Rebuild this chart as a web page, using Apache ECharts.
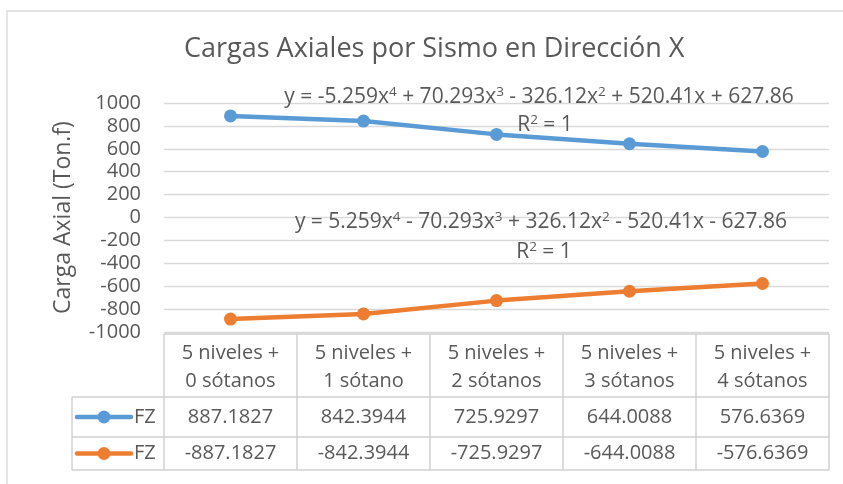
<!DOCTYPE html>
<html><head><meta charset="utf-8">
<script src="https://cdn.jsdelivr.net/npm/echarts@6/dist/echarts.min.js"></script>
<style>html,body{margin:0;padding:0;background:#fff}#c{width:843px;height:484px}</style>
</head><body><div id="c"></div>
<script>
var categories = ["5 niveles +\n0 sótanos","5 niveles +\n1 sótano","5 niveles +\n2 sótanos","5 niveles +\n3 sótanos","5 niveles +\n4 sótanos"];
var fzPos = [887.1827, 842.3944, 725.9297, 644.0088, 576.6369];
var fzNeg = [-887.1827, -842.3944, -725.9297, -644.0088, -576.6369];
var seriesNames = ["FZ","FZ"];
var yTicks = {min:-1000, max:1000, interval:200};
var FONT = "Open Sans";
var TXT = "#595959";
var GRIDC = "#d9d9d9";
var BLUE = "#5b9bd5", ORANGE = "#ed7d31";

var chart = echarts.init(document.getElementById('c'), null, {renderer:'canvas'});
var base = {
  animation:false,
  textStyle:{fontFamily:FONT},
  title:{text:"Cargas Axiales por Sismo en Dirección X", left:179, top:31,
    textStyle:{fontFamily:FONT, fontSize:27, fontWeight:'normal', color:TXT}},
  grid:{left:164, right:14, top:103, bottom:152, containLabel:false},
  xAxis:{type:'category', data:categories, boundaryGap:true,
    axisLine:{show:false}, axisTick:{show:false}, axisLabel:{show:false}, splitLine:{show:false}},
  yAxis:{type:'value', min:yTicks.min, max:yTicks.max, interval:yTicks.interval,
    name:"Carga Axial (Ton.f)", nameLocation:'middle', nameGap:89, nameRotate:90,
    nameTextStyle:{fontFamily:FONT, fontSize:23, color:TXT},
    axisLabel:{fontFamily:FONT, fontSize:20, color:TXT, margin:23, formatter:function(v){return String(v);}},
    axisLine:{show:false}, axisTick:{show:false},
    splitLine:{lineStyle:{color:GRIDC, width:1.3}}},
  series:[
    {name:seriesNames[0], type:'line', data:fzPos, symbol:'circle', symbolSize:13,
     lineStyle:{color:BLUE, width:4.5}, itemStyle:{color:BLUE}, z:3},
    {name:seriesNames[1], type:'line', data:fzNeg, symbol:'circle', symbolSize:13,
     lineStyle:{color:ORANGE, width:4.5}, itemStyle:{color:ORANGE}, z:3}
  ]
};
chart.setOption(base);

function px(i){ return chart.convertToPixel({xAxisIndex:0}, i); }
var colW = px(1) - px(0);
var left = px(0) - colW/2, right = px(categories.length-1) + colW/2;
var tTop = 334, r1 = 397, r2 = 437, tBot = 470, legL = 72;
var g = [];
var lc = "#d0d0d0";
g.push({type:'rect', shape:{x:7, y:11, width:900, height:600}, style:{fill:null, stroke:"#d9d9d9", lineWidth:1.3}, silent:true});
function line(x1,y1,x2,y2){ g.push({type:'line', shape:{x1:x1,y1:y1,x2:x2,y2:y2}, style:{stroke:lc, lineWidth:1.5}, silent:true}); }
line(left, tTop, right, tTop);
line(legL, r1, right, r1);
line(legL, r2, right, r2);
line(legL, tBot, right, tBot);
line(legL, r1, legL, tBot);
for (var i=0;i<=categories.length;i++){ var x = left + i*colW; line(x, tTop, x, tBot); }
var ts = {fontFamily:FONT, fontSize:20, fill:TXT, align:'center', verticalAlign:'middle'};
for (var i=0;i<categories.length;i++){
  var cx = px(i);
  var parts = categories[i].split("\n");
  g.push({type:'text', x:cx, y:353, style:Object.assign({text:parts[0]}, ts), silent:true});
  g.push({type:'text', x:cx, y:381, style:Object.assign({text:parts[1]}, ts), silent:true});
  g.push({type:'text', x:cx, y:(r1+r2)/2, style:Object.assign({text:String(fzPos[i])}, ts), silent:true});
  g.push({type:'text', x:cx, y:(r2+tBot)/2, style:Object.assign({text:String(fzNeg[i])}, ts), silent:true});
}
[[BLUE,(r1+r2)/2,seriesNames[0]],[ORANGE,(r2+tBot)/2,seriesNames[1]]].forEach(function(s){
  g.push({type:'line', shape:{x1:77,y1:s[1],x2:131,y2:s[1]}, style:{stroke:s[0], lineWidth:4.5, lineCap:'round'}, silent:true});
  g.push({type:'circle', shape:{cx:104, cy:s[1], r:6.5}, style:{fill:s[0]}, silent:true});
  g.push({type:'text', x:134, y:s[1], style:{text:s[2], fontFamily:FONT, fontSize:20, fill:TXT, align:'left', verticalAlign:'middle'}, silent:true});
});
var rich = {n:{fontFamily:FONT, fontSize:21, color:TXT}, s:{fontFamily:FONT, fontSize:13.5, color:TXT, verticalAlign:'top', padding:[0,0,9,0]}};
function eq(x,y,t){ g.push({type:'text', x:x, y:y, style:{text:t, rich:rich, align:'center', verticalAlign:'middle', fontFamily:FONT, fontSize:21, fill:TXT}, silent:true, z:10}); }
eq(539, 97, "{n|y = -5.259x}{s|4}{n| + 70.293x}{s|3}{n| - 326.12x}{s|2}{n| + 520.41x + 627.86}");
eq(545, 125, "{n|R}{s|2}{n| = 1}");
eq(541, 222, "{n|y = 5.259x}{s|4}{n| - 70.293x}{s|3}{n| + 326.12x}{s|2}{n| - 520.41x - 627.86}");
eq(544, 252, "{n|R}{s|2}{n| = 1}");
chart.setOption({graphic:g});
</script></body></html>
